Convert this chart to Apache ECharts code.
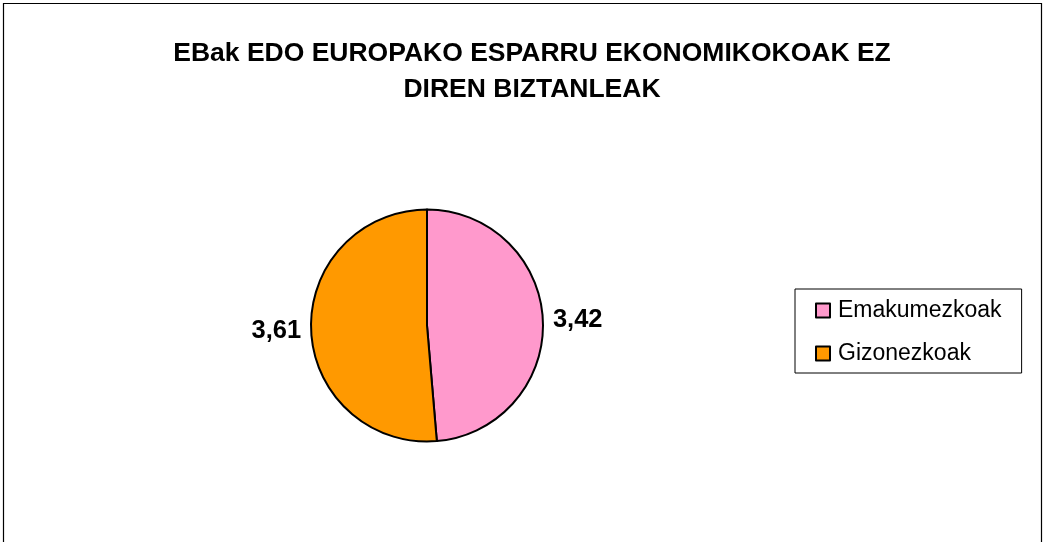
<!DOCTYPE html>
<html>
<head>
<meta charset="utf-8">
<script src="https://cdn.jsdelivr.net/npm/echarts@6/dist/echarts.min.js"></script>
<style>
html,body{margin:0;padding:0;background:#fff;}
#chart{width:1045px;height:542px;}
</style>
</head>
<body>
<div id="chart"></div>
<script>
const titleLines = ['EBak EDO EUROPAKO ESPARRU EKONOMIKOKOAK EZ', 'DIREN BIZTANLEAK'];
const categories = ['Emakumezkoak', 'Gizonezkoak'];
const values = [3.42, 3.61];
const colors = ['#FF99CC', '#FF9900'];

const FONT = '"Liberation Sans", Arial, Helvetica, sans-serif';
const chart = echarts.init(document.getElementById('chart'), null, {renderer: 'canvas'});

const data = categories.map((c, i) => ({
  name: c,
  value: values[i],
  itemStyle: {color: colors[i]}
}));

chart.setOption({
  animation: false,
  backgroundColor: '#ffffff',
  title: {
    text: titleLines.join('\n'),
    left: 532,
    top: 36,
    textAlign: 'center',
    padding: 0,
    textStyle: {
      fontFamily: FONT,
      fontSize: 26.5,
      fontWeight: 'bold',
      color: '#000',
      lineHeight: 35.5,
      align: 'center'
    }
  },
  legend: {
    orient: 'vertical',
    left: 795,
    top: 289,
    padding: [10, 20, 8, 20],
    borderColor: '#000',
    borderWidth: 1,
    itemWidth: 14,
    itemHeight: 14,
    itemGap: 20,
    icon: 'rect',
    selectedMode: false,
    itemStyle: {borderColor: '#000', borderWidth: 2},
    textStyle: {
      fontFamily: FONT,
      fontSize: 23,
      color: '#000',
      lineHeight: 22,
      padding: [0, 0, 0, 3]
    },
    data: categories
  },
  graphic: [{
    type: 'rect',
    shape: {x: 3.5, y: 3.5, width: 1038, height: 600},
    style: {fill: 'none', stroke: '#000', lineWidth: 1.2},
    silent: true,
    z: 100
  }],
  series: [{
    type: 'pie',
    center: [427, 325.5],
    radius: [0, 116],
    startAngle: 90,
    clockwise: true,
    avoidLabelOverlap: false,
    data: data,
    itemStyle: {borderColor: '#000', borderWidth: 2},
    emphasis: {disabled: true},
    label: {
      show: true,
      position: 'outside',
      formatter: p => String(p.value).replace('.', ','),
      fontFamily: FONT,
      fontSize: 25.5,
      fontWeight: 'bold',
      color: '#000',
      distanceToLabelLine: 5
    },
    labelLine: {show: false, length: 5, length2: 0}
  }]
});
</script>
</body>
</html>
